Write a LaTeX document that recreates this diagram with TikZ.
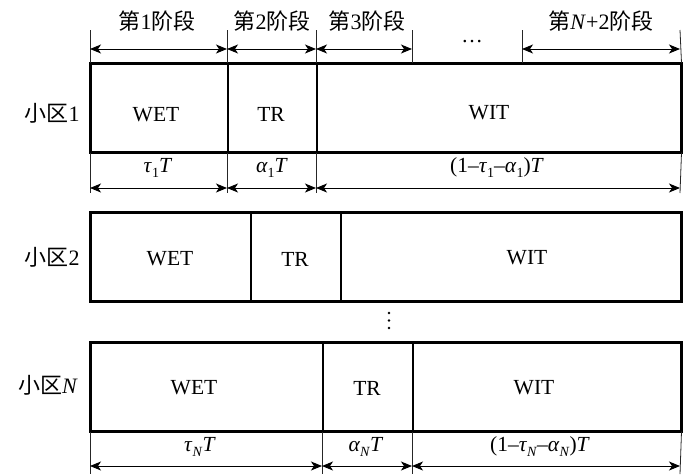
\documentclass[tikz,border=0pt]{standalone}
\usepackage{fontspec}
\setmainfont{Liberation Serif}
\newfontfamily\cjk{Noto Sans CJK SC}
\usetikzlibrary{arrows.meta}
\newcommand\lowsub[1]{\raisebox{-5pt}{\fontsize{14}{14}\selectfont #1}}
\begin{document}
\begin{tikzpicture}[x=1pt,y=-1pt,
  cell/.style={draw, line width=1.5pt, inner sep=0pt, anchor=north west, minimum height=88pt},
  frame/.style={draw, line width=2.2pt},
  tick/.style={line width=0.8pt, black!85},
  dim/.style={line width=1pt, {Stealth[length=11pt,width=9pt,inset=3pt]}-{Stealth[length=11pt,width=9pt,inset=3pt]}},
  lbl/.style={font=\fontsize{21.5}{21.5}\selectfont, inner sep=0pt},
  zh/.style={font=\fontsize{22}{22}\selectfont, inner sep=0pt}]
\useasboundingbox (0,0) rectangle (700,474);

% ---------- row 1 ----------
\node[cell, minimum width=137pt] (wet1) at (90,63) {};
\node[cell, minimum width=89pt]  (tr1)  at (227,63) {};
\node[cell, minimum width=364pt] (wit1) at (316,63) {};
\draw[frame] (wet1.north west) rectangle (wit1.south east);
\node[lbl] (wet1t) at (156,115) {WET};
\node[lbl] (tr1t)  at (271,114) {TR};
\node[lbl] (wit1t) at (489,113) {WIT};
\node[zh]  (c1)    at (52,113) {{\cjk 小区}1};

% top ticks and dimension lines
\coordinate (u0) at (90,30);
\coordinate (u1) at (227,30);
\coordinate (u2) at (316,30);
\coordinate (u3) at (412,30);
\coordinate (w3) at (412,63);
\coordinate (u4) at (522,30);
\coordinate (w4) at (522,63);
\coordinate (u5) at (680,30);
\draw[tick] (wet1.north west) -- (u0);
\draw[tick] (tr1.north west) -- (u1);
\draw[tick] (wit1.north west) -- (u2);
\draw[tick] (w3) -- (u3);
\draw[tick] (w4) -- (u4);
\draw[tick] (wit1.north east) -- (u5);
\coordinate (p0) at (90,49);
\coordinate (p1) at (227,49);
\coordinate (p2) at (316,49);
\coordinate (p3) at (412,49);
\coordinate (p4) at (522,49);
\coordinate (p5) at (680,49);
\draw[dim] (p0) -- (p1);
\draw[dim] (p1) -- (p2);
\draw[dim] (p2) -- (p3);
\draw[dim] (p4) -- (p5);
\node[zh] (s1) at (157,21) {{\cjk 第}1{\cjk 阶段}};
\node[zh] (s2) at (272,21) {{\cjk 第}2{\cjk 阶段}};
\node[zh] (s3) at (367,21) {{\cjk 第}3{\cjk 阶段}};
\node[lbl] (sd) at (472,42) {…};
\node[zh] (sn) at (601,21) {{\cjk 第}\textit{N}+2{\cjk 阶段}};

% bottom ticks and dims row 1
\coordinate (q0) at (90,193);
\coordinate (q1) at (227,193);
\coordinate (q2) at (316,193);
\coordinate (q3) at (680,193);
\draw[tick] (wet1.south west) -- (q0);
\draw[tick] (tr1.south west) -- (q1);
\draw[tick] (wit1.south west) -- (q2);
\draw[tick] (wit1.south east) -- (q3);
\coordinate (r0) at (90,188);
\coordinate (r1) at (227,188);
\coordinate (r2) at (316,188);
\coordinate (r3) at (680,188);
\draw[dim] (r0) -- (r1);
\draw[dim] (r1) -- (r2);
\draw[dim] (r2) -- (r3);
\node[lbl] (d11) at (158,168) {\textit{τ}\lowsub{1}\textit{T}};
\node[lbl] (d12) at (272,168) {\textit{α}\lowsub{1}\textit{T}};
\node[lbl] (d13) at (497,168) {(1–\textit{τ}\lowsub{1}–\textit{α}\lowsub{1})\textit{T}};

% ---------- row 2 ----------
\node[cell, minimum width=160pt] (wet2) at (90,212) {};
\node[cell, minimum width=90pt]  (tr2)  at (250,212) {};
\node[cell, minimum width=340pt] (wit2) at (340,212) {};
\draw[frame] (wet2.north west) rectangle (wit2.south east);
\node[lbl] (wet2t) at (170,259) {WET};
\node[lbl] (tr2t)  at (295,259) {TR};
\node[lbl] (wit2t) at (527,258) {WIT};
\node[zh]  (c2)    at (52,257) {{\cjk 小区}2};

% vertical dots
\fill (389,313) circle (1.4pt) (389,320.5) circle (1.4pt) (389,328) circle (1.4pt);

% ---------- row N ----------
\node[cell, minimum width=232pt] (wetn) at (90,342) {};
\node[cell, minimum width=90pt]  (trn)  at (322,342) {};
\node[cell, minimum width=268pt] (witn) at (412,342) {};
\draw[frame] (wetn.north west) rectangle (witn.south east);
\node[lbl] (wetnt) at (194,388) {WET};
\node[lbl] (trnt)  at (367,388) {TR};
\node[lbl] (witnt) at (534,388) {WIT};
\node[zh]  (cn)    at (48,385) {{\cjk 小区}\textit{N}};

\coordinate (m0) at (90,474);
\coordinate (m1) at (322,474);
\coordinate (m2) at (412,474);
\coordinate (m3) at (680,474);
\draw[tick] (wetn.south west) -- (m0);
\draw[tick] (trn.south west) -- (m1);
\draw[tick] (witn.south west) -- (m2);
\draw[tick] (witn.south east) -- (m3);
\coordinate (n0) at (90,466);
\coordinate (n1) at (322,466);
\coordinate (n2) at (412,466);
\coordinate (n3) at (680,466);
\draw[dim] (n0) -- (n1);
\draw[dim] (n1) -- (n2);
\draw[dim] (n2) -- (n3);
\node[lbl] (dn1) at (200,447) {\textit{τ}\lowsub{\textit{N}}\textit{T}};
\node[lbl] (dn2) at (366,447) {\textit{α}\lowsub{\textit{N}}\textit{T}};
\node[lbl] (dn3) at (540,447) {(1–\textit{τ}\lowsub{\textit{N}}–\textit{α}\lowsub{\textit{N}})\textit{T}};
\end{tikzpicture}
\end{document}
